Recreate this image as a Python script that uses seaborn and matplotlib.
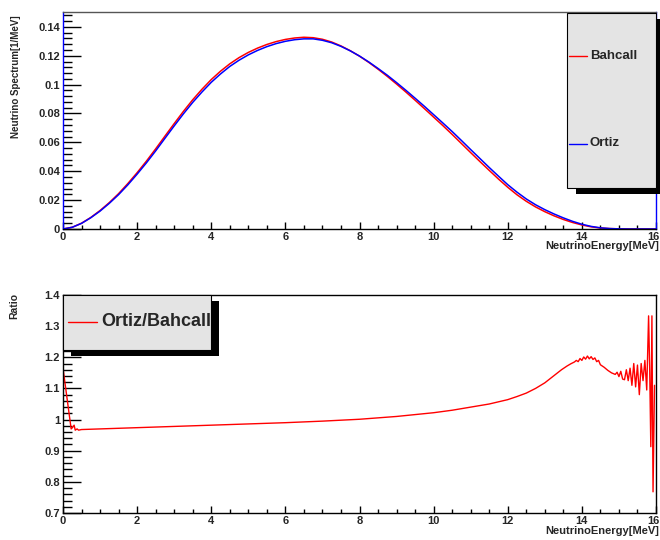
import matplotlib
matplotlib.use("Agg")
import matplotlib.pyplot as plt
import numpy as np
import pandas as pd
import seaborn as sns
from matplotlib.lines import Line2D
from matplotlib.patches import Rectangle
from matplotlib.ticker import MultipleLocator, FuncFormatter
from matplotlib.transforms import ScaledTranslation

# ---- spectrum data (1/MeV) on a 0.25 MeV grid ----
energy = [0.0, 0.25, 0.5, 0.75, 1.0, 1.25, 1.5, 1.75, 2.0, 2.25, 2.5, 2.75,
          3.0, 3.25, 3.5, 3.75, 4.0, 4.25, 4.5, 4.75, 5.0, 5.25, 5.5, 5.75,
          6.0, 6.25, 6.5, 6.75, 7.0, 7.25, 7.5, 7.75, 8.0, 8.25, 8.5, 8.75,
          9.0, 9.25, 9.5, 9.75, 10.0, 10.25, 10.5, 10.75, 11.0, 11.25, 11.5,
          11.75, 12.0, 12.25, 12.5, 12.75, 13.0, 13.25, 13.5, 13.75, 14.0,
          14.25, 14.5, 14.75, 15.0, 15.25, 15.5, 15.75, 16.0]
bahcall = [0.0, 0.0012, 0.0040, 0.0080, 0.0128, 0.0183, 0.0245, 0.0315, 0.0390,
           0.0470, 0.0555, 0.0643, 0.0730, 0.0815, 0.0895, 0.0968, 0.1035,
           0.1093, 0.1144, 0.1187, 0.1223, 0.1253, 0.1278, 0.1298, 0.1313,
           0.1323, 0.1328, 0.1325, 0.1314, 0.1295, 0.1268, 0.1235, 0.1197,
           0.1154, 0.1107, 0.1057, 0.1004, 0.0949, 0.0892, 0.0834, 0.0775,
           0.0716, 0.0655, 0.0592, 0.0529, 0.0467, 0.0406, 0.0346, 0.0289,
           0.0237, 0.0192, 0.0153, 0.0120, 0.0091, 0.0066, 0.0045, 0.0028,
           0.0015, 0.0007, 0.0003, 0.0001, 0.0, 0.0, 0.0, 0.0]
ortiz = [0.0, 0.0012, 0.0039, 0.0078, 0.0124, 0.0178, 0.0238, 0.0306, 0.0380,
         0.0458, 0.0541, 0.0628, 0.0714, 0.0798, 0.0877, 0.0949, 0.1016,
         0.1074, 0.1126, 0.1169, 0.1206, 0.1237, 0.1263, 0.1284, 0.1300,
         0.1311, 0.1317, 0.1317, 0.1307, 0.1290, 0.1265, 0.1234, 0.1198,
         0.1157, 0.1112, 0.1065, 0.1014, 0.0961, 0.0906, 0.0850, 0.0792,
         0.0734, 0.0675, 0.0613, 0.0550, 0.0488, 0.0426, 0.0366, 0.0307,
         0.0255, 0.0208, 0.0168, 0.0134, 0.0104, 0.0077, 0.0053, 0.0033,
         0.0018, 0.0008, 0.0003, 0.0001, 0.0, 0.0, 0.0, 0.0]

# ---- Ortiz/Bahcall ratio ----
ratio_energy = [0.0, 0.22, 0.26, 0.30, 0.33, 0.38, 0.42, 0.5, 1.0, 2.0, 3.0, 4.0,
                5.0, 6.0, 7.0, 8.0, 9.0, 10.0, 10.5, 11.0, 11.5, 12.0, 12.25,
                12.5, 12.75, 13.0, 13.15, 13.3, 13.45, 13.6, 13.7, 13.8, 13.85,
                13.9, 13.95, 14.0, 14.05, 14.1, 14.15, 14.2, 14.25, 14.3, 14.35,
                14.4, 14.45, 14.5, 14.6, 14.7, 14.8, 14.9, 14.95, 15.0, 15.05,
                15.1, 15.15, 15.2, 15.25, 15.3, 15.35, 15.4, 15.45, 15.5, 15.55,
                15.6, 15.65, 15.7, 15.75, 15.8, 15.83, 15.86, 15.89, 15.92,
                15.96]
ratio_value = [1.165, 0.970, 0.975, 0.982, 0.966, 0.970, 0.966, 0.968, 0.970,
               0.974, 0.978, 0.982, 0.986, 0.990, 0.995, 1.001, 1.010, 1.022,
               1.030, 1.040, 1.050, 1.064, 1.074, 1.085, 1.100, 1.118, 1.132,
               1.146, 1.160, 1.172, 1.179, 1.185, 1.190, 1.186, 1.196, 1.190,
               1.201, 1.194, 1.204, 1.195, 1.202, 1.193, 1.198, 1.186, 1.190,
               1.176, 1.168, 1.158, 1.150, 1.145, 1.152, 1.138, 1.155, 1.130,
               1.128, 1.160, 1.125, 1.165, 1.110, 1.180, 1.105, 1.175, 1.080,
               1.180, 1.125, 1.190, 1.095, 1.333, 1.160, 0.913, 1.333, 0.768,
               1.110]

x_ticks = [0, 2, 4, 6, 8, 10, 12, 14, 16]

spec = pd.DataFrame({"E": energy, "Bahcall": bahcall, "Ortiz": ortiz})
ratio = pd.DataFrame({"E": ratio_energy, "R": ratio_value})

sns.set_theme(style="ticks")
plt.rcParams["font.family"] = ["Liberation Sans", "DejaVu Sans"]
plt.rcParams["font.weight"] = "bold"

W, H = 660, 540
fig = plt.figure(figsize=(W / 100, H / 100), dpi=100)
fig.patch.set_facecolor("white")


def fx(px):
    return px / W


def fy(py):
    return 1 - py / H


ax1 = fig.add_axes([fx(63), fy(229), fx(656) - fx(63), fy(12) - fy(229)])
ax2 = fig.add_axes([fx(63), fy(513), fx(656) - fx(63), fy(295) - fy(513)])

sns.lineplot(data=spec, x="E", y="Bahcall", ax=ax1, color="#ff0000",
             lw=1.1, estimator=None)
sns.lineplot(data=spec, x="E", y="Ortiz", ax=ax1, color="#0000ff",
             lw=1.1, estimator=None)
sns.lineplot(data=ratio, x="E", y="R", ax=ax2, color="#ff0000",
             lw=1.0, estimator=None)

fmt = FuncFormatter(lambda v, p: "%g" % round(v, 4))
for ax, ylim, ymaj, ymin in [(ax1, (0, 0.1503), 0.02, 0.004),
                             (ax2, (0.7, 1.4), 0.1, 0.02)]:
    ax.set_xlim(0, 16)
    ax.set_ylim(*ylim)
    ax.set_xlabel("")
    ax.set_ylabel("")
    ax.set_xticks(x_ticks)
    ax.xaxis.set_minor_locator(MultipleLocator(0.5))
    ax.yaxis.set_major_locator(MultipleLocator(ymaj))
    ax.yaxis.set_minor_locator(MultipleLocator(ymin))
    ax.yaxis.set_major_formatter(fmt)
    ax.tick_params(axis="y", which="major", direction="in", length=13,
                   width=1, pad=2.2, labelsize=8, color="black")
    ax.tick_params(axis="y", which="minor", direction="in", length=6.5,
                   width=1, color="black")
    ax.tick_params(axis="x", which="major", direction="in", length=5,
                   width=1, pad=2.5, labelsize=8, color="black")
    ax.tick_params(axis="x", which="minor", direction="in", length=2.7,
                   width=1, color="black")
    for lab in ax.get_xticklabels() + ax.get_yticklabels():
        lab.set_fontweight("bold")
    # keep the last energy label inside the canvas
    last = ax.get_xticklabels()[-1]
    last.set_transform(last.get_transform()
                       + ScaledTranslation(-2.6 / 100, 0, fig.dpi_scale_trans))
    for s in ax.spines.values():
        s.set_visible(True)
        s.set_linewidth(1.0)
        s.set_color("black")
    ax.set_facecolor("white")
    ax.grid(False)

ax1.spines["top"].set_color("#555555")
ax1.spines["left"].set_color("#0000ff")
ax1.spines["right"].set_color("#0000ff")

# axis titles
fig.text(fx(16), fy(15), "Neutrino Spectrum[1/MeV]", rotation=90,
         ha="center", va="top", fontsize=7, fontweight="bold")
fig.text(fx(14), fy(293), "Ratio", rotation=90, ha="center", va="top",
         fontsize=7.5, fontweight="bold")
fig.text(fx(659), fy(246), "NeutrinoEnergy[MeV]", ha="right", va="center",
         fontsize=8, fontweight="bold")
fig.text(fx(659), fy(531), "NeutrinoEnergy[MeV]", ha="right", va="center",
         fontsize=8, fontweight="bold")


def legend_box(x0, y0, x1, y1, dx, dy):
    fig.patches.append(Rectangle((fx(x0 + dx), fy(y1 + dy)), fx(x1 - x0),
                                 fy(y0) - fy(y1), transform=fig.transFigure,
                                 facecolor="black", edgecolor="none",
                                 zorder=5))
    fig.patches.append(Rectangle((fx(x0), fy(y1)), fx(x1 - x0),
                                 fy(y0) - fy(y1), transform=fig.transFigure,
                                 facecolor="#e4e4e4", edgecolor="black",
                                 lw=0.8, zorder=6))


def legend_entry(x0, x1, xt, y, color, text, size):
    fig.lines.append(Line2D([fx(x0), fx(x1)], [fy(y), fy(y)],
                            transform=fig.transFigure, color=color, lw=1.0,
                            zorder=7))
    fig.text(fx(xt), fy(y), text, ha="left", va="center", fontsize=size,
             fontweight="bold", zorder=7)


legend_box(567, 13, 655.5, 188, 9, 6)
legend_entry(569, 587, 590, 56, "#ff0000", "Bahcall", 9.5)
legend_entry(569, 587, 590, 143.5, "#0000ff", "Ortiz", 9.5)

legend_box(63, 295, 211.5, 350, 7.5, 6)
legend_entry(68, 97, 101.5, 322, "#ff0000", "Ortiz/Bahcall", 13)

fig.savefig("out.png", dpi=100)
